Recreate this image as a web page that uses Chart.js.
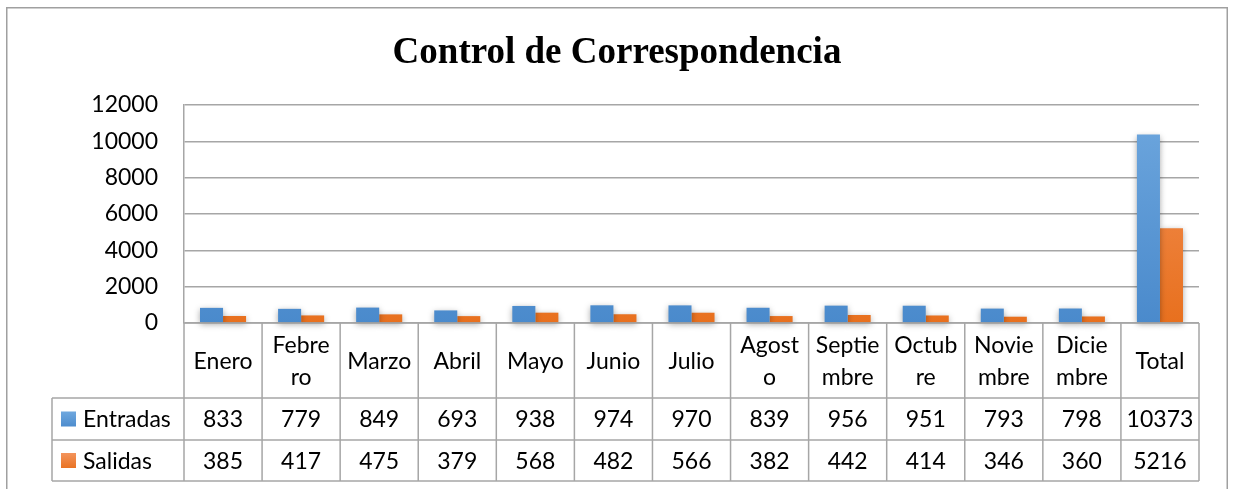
<!DOCTYPE html>
<html><head><meta charset="utf-8">
<script src="https://cdn.jsdelivr.net/npm/chart.js@4/dist/chart.umd.min.js"></script>
<style>html,body{margin:0;padding:0;background:#fff;overflow:hidden}#wrap{width:1234px;height:489px;position:relative}</style>
</head><body><div id="wrap"><canvas id="c" width="1234" height="489"></canvas></div>
<script>
const categories = ['Enero', ['Febre','ro'], 'Marzo', 'Abril', 'Mayo', 'Junio', 'Julio', ['Agost','o'], ['Septie','mbre'], ['Octub','re'], ['Novie','mbre'], ['Dicie','mbre'], 'Total'];
const seriesNames = ['Entradas', 'Salidas'];
const entradas = [833, 779, 849, 693, 938, 974, 970, 839, 956, 951, 793, 798, 10373];
const salidas = [385, 417, 475, 379, 568, 482, 566, 382, 442, 414, 346, 360, 5216];
const yTicks = [0, 2000, 4000, 6000, 8000, 10000, 12000];
const chartTitle = 'Control de Correspondencia';

const FONT = 'Lato, "Open Sans", sans-serif';
const GRID = '#a6a6a6';
const colors = [
  {top: '#6ea7de', bottom: '#4a8acc', solid: '#5b9bd5'},
  {top: '#f3935a', bottom: '#e8701e', solid: '#ed7d31'}
];

function grad(ctx, idx) {
  const chart = ctx.chart, a = chart.chartArea;
  if (!a) return colors[idx].solid;
  const g = chart.ctx.createLinearGradient(0, a.top, 0, a.bottom);
  g.addColorStop(0, colors[idx].top);
  g.addColorStop(1, colors[idx].bottom);
  return g;
}

const frame = {
  id: 'frame',
  beforeDraw(chart) {
    const c = chart.ctx;
    c.save();
    c.fillStyle = '#fff';
    c.fillRect(0, 0, chart.width, chart.height);
    c.strokeStyle = '#a0a0a0';
    c.lineWidth = 1.5;
    c.strokeRect(6.75, 7.75, 1220.5, 520);
    c.fillStyle = '#000';
    c.font = 'bold 37px "Liberation Serif", "Times New Roman", serif';
    c.textAlign = 'center';
    c.textBaseline = 'middle';
    c.fillText(chartTitle, chart.width / 2, 53);
    c.restore();
  }
};

const shadow = {
  id: 'shadow',
  beforeDatasetsDraw(chart) {
    const c = chart.ctx;
    c.save();
    c.shadowColor = 'rgba(0,0,0,0.35)';
    c.shadowBlur = 6;
    c.shadowOffsetY = 2;
  },
  afterDatasetsDraw(chart) { chart.ctx.restore(); }
};

const table = {
  id: 'table',
  afterDraw(chart) {
    const c = chart.ctx, a = chart.chartArea, xs = chart.scales.x;
    const n = categories.length;
    const colW = (a.right - a.left) / n;
    const catBottom = a.bottom + 75, r1 = catBottom + 42, r2 = r1 + 41;
    const legLeft = 52;
    c.save();
    c.strokeStyle = GRID;
    c.lineWidth = 1.5;
    c.beginPath();
    for (let i = 0; i <= n; i++) {
      const x = a.left + i * colW;
      c.moveTo(x, a.bottom); c.lineTo(x, r2);
    }
    c.moveTo(a.left, a.bottom); c.lineTo(a.right, a.bottom);
    [catBottom, r1, r2].forEach(y => { c.moveTo(legLeft, y); c.lineTo(a.right, y); });
    c.moveTo(legLeft, catBottom); c.lineTo(legLeft, r2);
    c.stroke();

    c.fillStyle = '#000';
    c.font = '23px ' + FONT;
    c.textAlign = 'center';
    c.textBaseline = 'middle';
    const catMid = (a.bottom + catBottom) / 2 + 1;
    const row1Mid = (catBottom + r1) / 2 + 1, row2Mid = (r1 + r2) / 2 + 1;
    categories.forEach((lab, i) => {
      const x = xs.getPixelForValue(i);
      const lines = Array.isArray(lab) ? lab : [lab];
      const lh = 32;
      lines.forEach((t, k) => {
        c.fillText(t, x, catMid + (k - (lines.length - 1) / 2) * lh);
      });
      c.fillText(String(entradas[i]), x, row1Mid);
      c.fillText(String(salidas[i]), x, row2Mid);
    });
    c.textAlign = 'left';
    [row1Mid, row2Mid].forEach((ym, k) => {
      const g = c.createLinearGradient(0, ym - 8, 0, ym + 8);
      g.addColorStop(0, colors[k].top); g.addColorStop(1, colors[k].bottom);
      c.fillStyle = g;
      c.fillRect(61, ym - 8.5, 15, 15);
      c.fillStyle = '#000';
      c.fillText(seriesNames[k], 83, ym);
    });
    c.restore();
  }
};

new Chart(document.getElementById('c'), {
  type: 'bar',
  data: {
    labels: categories,
    datasets: [
      {label: seriesNames[0], data: entradas, backgroundColor: ctx => grad(ctx, 0), categoryPercentage: 0.59, barPercentage: 1.0, clip: false},
      {label: seriesNames[1], data: salidas, backgroundColor: ctx => grad(ctx, 1), categoryPercentage: 0.59, barPercentage: 1.0, clip: false}
    ]
  },
  options: {
    responsive: false,
    devicePixelRatio: 1,
    animation: false,
    layout: {padding: {left: 0, right: 35, top: 105, bottom: 166}},
    plugins: {
      legend: {display: false},
      tooltip: {enabled: false},
      title: {display: false}
    },
    scales: {
      x: {display: false},
      y: {
        min: 0, max: 12000,
        afterFit(scale) { scale.width = 184; },
        afterBuildTicks(scale) { scale.ticks = yTicks.map(v => ({value: v})); },
        ticks: {color: '#000', padding: 26, font: {family: FONT, size: 23}, callback: v => String(v)},
        grid: {color: GRID, lineWidth: 1.5, drawTicks: false},
        border: {display: true, color: GRID, width: 1.5}
      }
    }
  },
  plugins: [frame, shadow, table]
});
</script></body></html>
